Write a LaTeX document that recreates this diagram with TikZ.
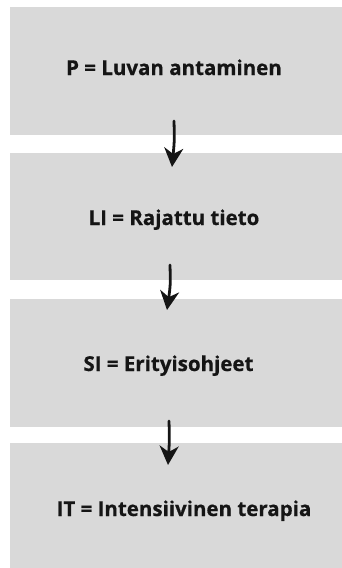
\documentclass[tikz,border=0pt]{standalone}
\usepackage{fontspec}
\setmainfont{Open Sans}[BoldFeatures={FakeBold=0.6}]
\usetikzlibrary{arrows.meta}
\definecolor{boxgray}{HTML}{D9D9D9}
\definecolor{inkc}{HTML}{151515}
\tikzset{
  x=1pt, y=-1pt,
  stage/.style={fill=boxgray, draw=none, minimum width=332pt, inner sep=0pt, anchor=north west},
  lbl/.style={font=\bfseries\fontsize{20.5}{24}\selectfont, text=inkc, inner sep=0pt, anchor=base},
  handarrow/.style={draw=inkc, line width=2.8pt, line cap=round,
    -{Stealth[length=19pt, width=19pt, inset=6pt]}}
}
\begin{document}
\begin{tikzpicture}
\useasboundingbox (0,0) rectangle (342,568);
\node[stage, minimum height=128pt] (b1) at (10,7) {};
\node[stage, minimum height=127pt] (b2) at (10,153) {};
\node[stage, minimum height=128pt] (b3) at (10,299) {};
\node[stage, minimum height=125pt] (b4) at (10,443) {};
\node[lbl] (t1) at (174,75) {P = Luvan antaminen};
\node[lbl] (t2) at (174,225) {LI = Rajattu tieto};
\node[lbl] (t3) at (168.5,371) {SI = Erityisohjeet};
\node[lbl] (t4) at (184,516) {IT = Intensiivinen terapia};
\coordinate (a1s) at (174,121);
\coordinate (a1e) at (172,167);
\coordinate (a2s) at (170,265);
\coordinate (a2e) at (167,310);
\coordinate (a3s) at (169,421);
\coordinate (a3e) at (168,465);
\draw[handarrow] (a1s) .. controls (174.5,140) .. (a1e);
\draw[handarrow] (a2s) .. controls (170.5,285) .. (a2e);
\draw[handarrow] (a3s) .. controls (169.5,440) .. (a3e);
\end{tikzpicture}
\end{document}
